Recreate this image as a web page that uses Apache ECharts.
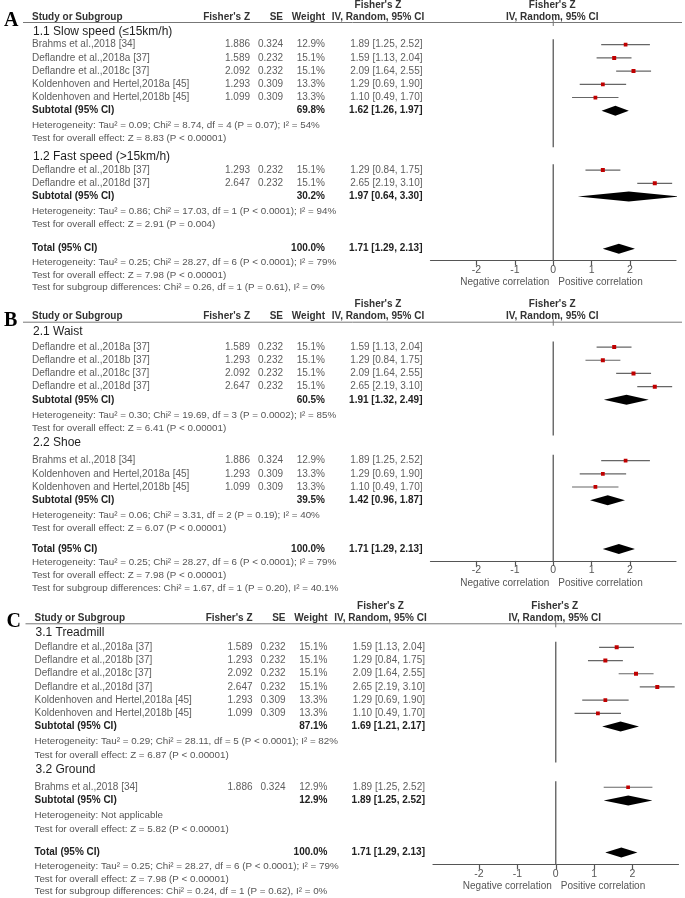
<!DOCTYPE html>
<html><head><meta charset="utf-8">
<script src="https://cdn.jsdelivr.net/npm/echarts@6/dist/echarts.min.js"></script>
<style>html,body{margin:0;padding:0;background:#fff;}#c{width:685px;height:898px;}</style>
</head><body><div id="c"></div>
<script>
// ---------------- data ----------------
const studyNames = ["Brahms et al.,2018 [34]", "Deflandre et al.,2018a [37]", "Deflandre et al.,2018b [37]", "Deflandre et al.,2018c [37]", "Deflandre et al.,2018d [37]", "Koldenhoven and Hertel,2018a [45]", "Koldenhoven and Hertel,2018b [45]"];
const studyZ = [1.886, 1.589, 1.293, 2.092, 2.647, 1.293, 1.099];
const studySE = [0.324, 0.232, 0.232, 0.232, 0.232, 0.309, 0.309];
const studyWeight = [12.9, 15.1, 15.1, 15.1, 15.1, 13.3, 13.3];
const studyEst = [1.89, 1.59, 1.29, 2.09, 2.65, 1.29, 1.10];
const studyLo = [1.25, 1.13, 0.84, 1.64, 2.19, 0.69, 0.49];
const studyHi = [2.52, 2.04, 1.75, 2.55, 3.10, 1.90, 1.70];

const panelLetters = ["A", "B", "C"];
const subgroupNames = [["1.1 Slow speed (≤15km/h)", "1.2 Fast speed (>15km/h)"], ["2.1 Waist", "2.2 Shoe"], ["3.1 Treadmill", "3.2 Ground"]];
const subgroupMembers = [[[0, 1, 3, 5, 6], [2, 4]], [[1, 2, 3, 4], [0, 5, 6]], [[1, 2, 3, 4, 5, 6], [0]]];
const subtotalWeight = [[69.8, 30.2], [60.5, 39.5], [87.1, 12.9]];
const subtotalEst = [[1.62, 1.97], [1.91, 1.42], [1.69, 1.89]];
const subtotalLo = [[1.26, 0.64], [1.32, 0.96], [1.21, 1.25]];
const subtotalHi = [[1.97, 3.30], [2.49, 1.87], [2.17, 2.52]];
const subgroupHet = [
  ["Heterogeneity: Tau² = 0.09; Chi² = 8.74, df = 4 (P = 0.07); I² = 54%", "Heterogeneity: Tau² = 0.86; Chi² = 17.03, df = 1 (P < 0.0001); I² = 94%"],
  ["Heterogeneity: Tau² = 0.30; Chi² = 19.69, df = 3 (P = 0.0002); I² = 85%", "Heterogeneity: Tau² = 0.06; Chi² = 3.31, df = 2 (P = 0.19); I² = 40%"],
  ["Heterogeneity: Tau² = 0.29; Chi² = 28.11, df = 5 (P < 0.0001); I² = 82%", "Heterogeneity: Not applicable"]
];
const subgroupTest = [
  ["Test for overall effect: Z = 8.83 (P < 0.00001)", "Test for overall effect: Z = 2.91 (P = 0.004)"],
  ["Test for overall effect: Z = 6.41 (P < 0.00001)", "Test for overall effect: Z = 6.07 (P < 0.00001)"],
  ["Test for overall effect: Z = 6.87 (P < 0.00001)", "Test for overall effect: Z = 5.82 (P < 0.00001)"]
];
const totalWeight = 100.0;
const totalEst = 1.71, totalLo = 1.29, totalHi = 2.13;
const totalHet = "Heterogeneity: Tau² = 0.25; Chi² = 28.27, df = 6 (P < 0.0001); I² = 79%";
const totalTest = "Test for overall effect: Z = 7.98 (P < 0.00001)";
const subgroupDiff = [
  "Test for subgroup differences: Chi² = 0.26, df = 1 (P = 0.61), I² = 0%",
  "Test for subgroup differences: Chi² = 1.67, df = 1 (P = 0.20), I² = 40.1%",
  "Test for subgroup differences: Chi² = 0.24, df = 1 (P = 0.62), I² = 0%"
];
const axisTicks = [-2, -1, 0, 1, 2];
const axisLeftLabel = "Negative correlation";
const axisRightLabel = "Positive correlation";

// ---------------- layout ----------------
const UNIT = 13.2;
const panelTop = [17, 316.7, 618.3];
const panelDx = [0, 0, 2.5];
const layoutParams = [
  {sub1: 1.1, gs: [1.0, 1.05], het: 1.1, test: 1.0, sub: 1.35, total: 1.85},
  {sub1: 1.15, gs: [1.15, 1.35], het: 1.15, test: 1.0, sub: 1.1, total: 1.55},
  {sub1: 1.1, gs: [1.1, 1.3], het: 1.15, test: 1.0, sub: 1.15, total: 1.8}
];
const FONT = '"Liberation Sans", Arial, sans-serif';

function buildRows(p) {
  const L = layoutParams[p];
  const rows = [{kind: 'header', y: 0}];
  const starts = [], tests = [], subs = [];
  let y = L.sub1;
  for (let g = 0; g < 2; g++) {
    if (g > 0) y += L.sub;
    subs.push(y);
    rows.push({kind: 'sub', y, text: subgroupNames[p][g]});
    y += L.gs[g];
    starts.push(y);
    subgroupMembers[p][g].forEach(i => { rows.push({kind: 'study', y, i}); y += 1; });
    rows.push({kind: 'subtotal', y, g});
    y += L.het; rows.push({kind: 'text', y, text: subgroupHet[p][g]});
    y += L.test; rows.push({kind: 'text', y, text: subgroupTest[p][g]});
    tests.push(y);
  }
  y += L.total; rows.push({kind: 'total', y});
  const yMax = y + 0.9;
  y += 1; rows.push({kind: 'text', y, text: totalHet});
  y += 1; rows.push({kind: 'text', y, text: totalTest});
  y += 0.95; rows.push({kind: 'text', y, text: subgroupDiff[p]});
  rows.push({kind: 'axis', y: yMax});
  const zero = [[starts[0] - 0.42, (tests[0] + subs[1]) / 2], [starts[1] - 0.45, yMax]];
  return {rows, zero, yMax};
}

const fmt2 = v => v.toFixed(2);
const ciText = (e, l, h) => fmt2(e) + ' [' + fmt2(l) + ', ' + fmt2(h) + ']';

const grids = [], xAxes = [], yAxes = [], series = [];
for (let p = 0; p < 3; p++) {
  const B = buildRows(p);
  const dx = panelDx[p];
  grids.push({left: 430.5 + dx, width: 245.5, top: panelTop[p], height: B.yMax * UNIT});
  xAxes.push({
    gridIndex: p, type: 'value', min: -3.2, max: 3.2, position: 'bottom',
    axisLine: {show: true, onZero: false, lineStyle: {color: '#555', width: 1.2}},
    axisTick: {show: true, customValues: axisTicks, length: 5, lineStyle: {color: '#555', width: 1.2}},
    axisLabel: {show: true, customValues: axisTicks, fontSize: 10.5, color: '#555', margin: 4, fontFamily: FONT},
    splitLine: {show: false}
  });
  yAxes.push({gridIndex: p, type: 'value', inverse: true, min: 0, max: B.yMax, show: false});

  // text rows
  series.push({
    type: 'custom', xAxisIndex: p, yAxisIndex: p, clip: false, silent: true,
    data: B.rows.map(r => [0, r.y]),
    renderItem: (params, api) => {
      const r = B.rows[params.dataIndex];
      const pt = api.coord([0, r.y]);
      const py = pt[1], x0 = pt[0];
      const ch = [];
      const T = (s, x, align, o) => {
        o = o || {};
        ch.push({type: 'text', style: {
          text: s, x: x + dx, y: py + (o.dy || 0), align: align, verticalAlign: 'middle',
          fill: o.color || '#5e5e5e', fontSize: o.size || 10, fontWeight: o.bold ? 'bold' : 'normal',
          fontFamily: o.family || FONT
        }});
      };
      const H = {bold: true, color: '#333'};
      if (r.kind === 'header') {
        ch.push({type: 'text', style: {text: panelLetters[p], x: 4 + dx, y: py + 4, align: 'left', verticalAlign: 'middle',
          fill: '#000', fontSize: 20, fontWeight: 'bold', fontFamily: '"Liberation Serif", "Times New Roman", serif'}});
        T('Study or Subgroup', 32, 'left', H);
        T("Fisher's Z", 250, 'right', H);
        T('SE', 283, 'right', H);
        T('Weight', 325, 'right', H);
        T('IV, Random, 95% CI', 378, 'center', H);
        T("Fisher's Z", 378, 'center', Object.assign({dy: -12}, H));
        ch.push({type: 'text', style: {text: "Fisher's Z", x: x0 - 1, y: py - 12, align: 'center', verticalAlign: 'middle', fill: '#333', fontSize: 10, fontWeight: 'bold', fontFamily: FONT}});
        ch.push({type: 'text', style: {text: 'IV, Random, 95% CI', x: x0 - 1, y: py, align: 'center', verticalAlign: 'middle', fill: '#333', fontSize: 10, fontWeight: 'bold', fontFamily: FONT}});
        ch.push({type: 'line', shape: {x1: 23 + dx, y1: py + 5.5, x2: 682, y2: py + 5.5}, style: {stroke: '#777', lineWidth: 1}});
        ch.push({type: 'line', shape: {x1: x0, y1: py + 2.5, x2: x0, y2: py + 9}, style: {stroke: '#777', lineWidth: 1}});
      } else if (r.kind === 'sub') {
        T(r.text, 33, 'left', {size: 12, color: '#1e1e1e'});
      } else if (r.kind === 'study') {
        const i = r.i;
        T(studyNames[i], 32, 'left');
        T(studyZ[i].toFixed(3), 250, 'right');
        T(studySE[i].toFixed(3), 283, 'right');
        T(studyWeight[i].toFixed(1) + '%', 325, 'right');
        T(ciText(studyEst[i], studyLo[i], studyHi[i]), 422.5, 'right');
      } else if (r.kind === 'subtotal') {
        const g = r.g;
        T('Subtotal (95% CI)', 32, 'left', {bold: true, color: '#222'});
        T(subtotalWeight[p][g].toFixed(1) + '%', 325, 'right', {bold: true, color: '#222'});
        T(ciText(subtotalEst[p][g], subtotalLo[p][g], subtotalHi[p][g]), 422.5, 'right', {bold: true, color: '#222'});
      } else if (r.kind === 'total') {
        T('Total (95% CI)', 32, 'left', {bold: true, color: '#222'});
        T(totalWeight.toFixed(1) + '%', 325, 'right', {bold: true, color: '#222'});
        T(ciText(totalEst, totalLo, totalHi), 422.5, 'right', {bold: true, color: '#222'});
      } else if (r.kind === 'text') {
        T(r.text, 32, 'left', {color: '#555', size: 9.8});
      } else if (r.kind === 'axis') {
        ch.push({type: 'text', style: {text: axisLeftLabel, x: x0 - 4, y: py + 22, align: 'right', verticalAlign: 'middle', fill: '#555', fontSize: 10, fontFamily: FONT}});
        ch.push({type: 'text', style: {text: axisRightLabel, x: x0 + 5, y: py + 22, align: 'left', verticalAlign: 'middle', fill: '#555', fontSize: 10, fontFamily: FONT}});
      }
      return {type: 'group', children: ch};
    }
  });

  // zero line segments
  series.push({
    type: 'custom', xAxisIndex: p, yAxisIndex: p, clip: false, silent: true,
    data: B.zero.map(s => [0, s[0], s[1]]),
    renderItem: (params, api) => {
      const a = api.coord([0, api.value(1)]), b = api.coord([0, api.value(2)]);
      return {type: 'line', shape: {x1: a[0], y1: a[1], x2: b[0], y2: b[1]}, style: {stroke: '#666', lineWidth: 1.4}};
    }
  });

  // study CIs and points
  const studyRows = B.rows.filter(r => r.kind === 'study');
  series.push({
    type: 'custom', xAxisIndex: p, yAxisIndex: p, clip: true, silent: true,
    data: studyRows.map(r => [studyZ[r.i], r.y, studyLo[r.i], studyHi[r.i], studyWeight[r.i]]),
    renderItem: (params, api) => {
      const y = api.value(1);
      const c = api.coord([api.value(0), y]);
      const l = api.coord([api.value(2), y]);
      const h = api.coord([api.value(3), y]);
      const s = 4 * Math.sqrt(api.value(4) / 15.1);
      return {type: 'group', children: [
        {type: 'line', shape: {x1: l[0], y1: l[1], x2: h[0], y2: h[1]}, style: {stroke: '#666', lineWidth: 1.2}},
        {type: 'rect', shape: {x: c[0] - s / 2, y: c[1] - s / 2, width: s, height: s}, style: {fill: '#c00000'}}
      ]};
    }
  });

  // diamonds
  const dRows = B.rows.filter(r => r.kind === 'subtotal' || r.kind === 'total');
  series.push({
    type: 'custom', xAxisIndex: p, yAxisIndex: p, clip: true, silent: true,
    data: dRows.map(r => r.kind === 'total' ? [totalEst, r.y, totalLo, totalHi] : [subtotalEst[p][r.g], r.y, subtotalLo[p][r.g], subtotalHi[p][r.g]]),
    renderItem: (params, api) => {
      const y = api.value(1);
      const c = api.coord([api.value(0), y]);
      const l = api.coord([api.value(2), y]);
      const h = api.coord([api.value(3), y]);
      const hh = 5;
      return {type: 'polygon', shape: {points: [[l[0], c[1]], [c[0], c[1] - hh], [h[0], c[1]], [c[0], c[1] + hh]]}, style: {fill: '#000'}};
    }
  });
}

const chart = echarts.init(document.getElementById('c'), null, {renderer: 'canvas'});
chart.setOption({
  animation: false,
  backgroundColor: '#fff',
  grid: grids, xAxis: xAxes, yAxis: yAxes, series: series
});
</script></body></html>
